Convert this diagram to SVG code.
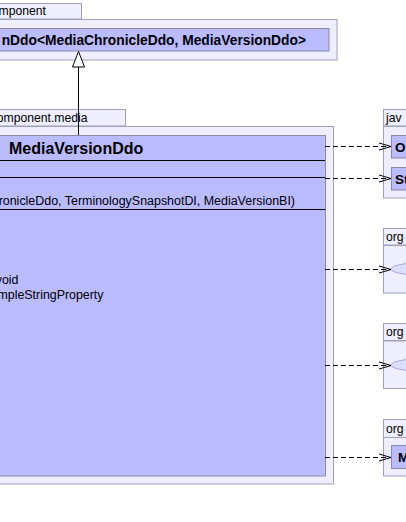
<svg xmlns="http://www.w3.org/2000/svg" width="406" height="522" viewBox="0 0 406 522">
<defs>
<style>
.pkg{fill:#EEEEFF;stroke:#A0A0BC;stroke-width:1}
.cls{fill:#BBBBFF;stroke:#8A8AA6;stroke-width:1}
.ell{fill:#DDDDFF;stroke:#AAAACC;stroke-width:1}
.t{font-family:"Liberation Sans",Arial,sans-serif;fill:#000}
.tab{font-size:12.2px}
.b{font-weight:bold}
.div{stroke:#000;stroke-width:1}
.dep{stroke:#000;stroke-width:1;stroke-dasharray:5,3;fill:none}
.head{stroke:#000;stroke-width:1;fill:none}
</style>
</defs>
<rect width="406" height="522" fill="#FFFFFF"/>

<g id="pkg-component">
<rect class="pkg" x="-2" y="3.5" width="83.5" height="15.5"/>
<rect class="pkg" x="-2" y="19.5" width="339" height="40.5"/>
<text class="t tab" x="46" y="15" text-anchor="end">mponent</text>
<g id="node-parent">
<rect class="cls" x="-2" y="28.5" width="331" height="22.5"/>
<text class="t b" x="306" y="44.5" text-anchor="end" font-size="13.8">nDdo&lt;MediaChronicleDdo, MediaVersionDdo&gt;</text>
</g>
</g>

<g id="pkg-media">
<rect class="pkg" x="-2" y="109.5" width="127.5" height="16.5"/>
<rect class="pkg" x="-2" y="126.5" width="335.5" height="357.5"/>
<text class="t tab" x="87.5" y="122" text-anchor="end">omponent.media</text>
<g id="node-MediaVersionDdo">
<rect class="cls" x="-2" y="135.5" width="327.5" height="340.5"/>
<text class="t b" x="9" y="154" font-size="16">MediaVersionDdo</text>
<line class="div" x1="-2" y1="160.5" x2="325" y2="160.5"/>
<line class="div" x1="-2" y1="177.5" x2="325" y2="177.5"/>
<text class="t" x="295" y="205" text-anchor="end" font-size="12.45">ronicleDdo, TerminologySnapshotDI, MediaVersionBI)</text>
<line class="div" x1="-2" y1="209.5" x2="325" y2="209.5"/>
<text class="t" x="18.5" y="284" text-anchor="end" font-size="12.4">void</text>
<text class="t" x="103.5" y="299" text-anchor="end" font-size="12.4">mpleStringProperty</text>
</g>
</g>

<g id="pkg-java">
<rect class="pkg" x="383.5" y="109.5" width="30" height="16.5"/>
<rect class="pkg" x="383.5" y="126.5" width="30" height="71.5"/>
<text class="t tab" x="386" y="122">jav</text>
<g id="node-O">
<rect class="cls" x="391.5" y="135.5" width="30" height="22.5"/>
<text class="t b" x="395" y="151.5" font-size="13.5">O</text>
</g>
<g id="node-St">
<rect class="cls" x="391.5" y="167.5" width="30" height="22.5"/>
<text class="t b" x="395" y="183.5" font-size="13.5">St</text>
</g>
</g>

<g id="pkg-org1">
<rect class="pkg" x="383.5" y="228.5" width="30" height="16.5"/>
<rect class="pkg" x="383.5" y="245.5" width="30" height="47.5"/>
<text class="t tab" x="386" y="241">org</text>
<g id="node-ellipse1">
<ellipse class="ell" cx="431" cy="269" rx="40" ry="7"/>
</g>
</g>

<g id="pkg-org2">
<rect class="pkg" x="383.5" y="323.5" width="30" height="17"/>
<rect class="pkg" x="383.5" y="341" width="30" height="47.5"/>
<text class="t tab" x="386" y="336">org</text>
<g id="node-ellipse2">
<ellipse class="ell" cx="431" cy="365" rx="40" ry="7"/>
</g>
</g>

<g id="pkg-org3">
<rect class="pkg" x="383.5" y="419.5" width="30" height="18"/>
<rect class="pkg" x="383.5" y="437.5" width="30" height="38.5"/>
<text class="t tab" x="386" y="433">org</text>
<g id="node-M">
<rect class="cls" x="391.5" y="445.5" width="30" height="23"/>
<text class="t b" x="398" y="462" font-size="13.5">M</text>
</g>
</g>

<g id="connectors">
<line x1="78.5" y1="67" x2="78.5" y2="135" stroke="#000" stroke-width="1"/>
<polygon points="78.5,51.5 72.5,67 84.5,67" fill="#FFFFFF" stroke="#000" stroke-width="1"/>

<line class="dep" x1="325" y1="146.5" x2="390" y2="146.5"/>
<polyline class="head" points="379,143 391,146.5 379,150"/>
<line class="dep" x1="325" y1="178.5" x2="390" y2="178.5"/>
<polyline class="head" points="379,175 391,178.5 379,182"/>
<line class="dep" x1="325" y1="269.5" x2="390" y2="269.5"/>
<polyline class="head" points="379,266 391,269.5 379,273"/>
<line class="dep" x1="325" y1="365.5" x2="390" y2="365.5"/>
<polyline class="head" points="379,362 391,365.5 379,369"/>
<line class="dep" x1="325" y1="457.5" x2="390" y2="457.5"/>
<polyline class="head" points="379,454 391,457.5 379,461"/>
</g>
</svg>
